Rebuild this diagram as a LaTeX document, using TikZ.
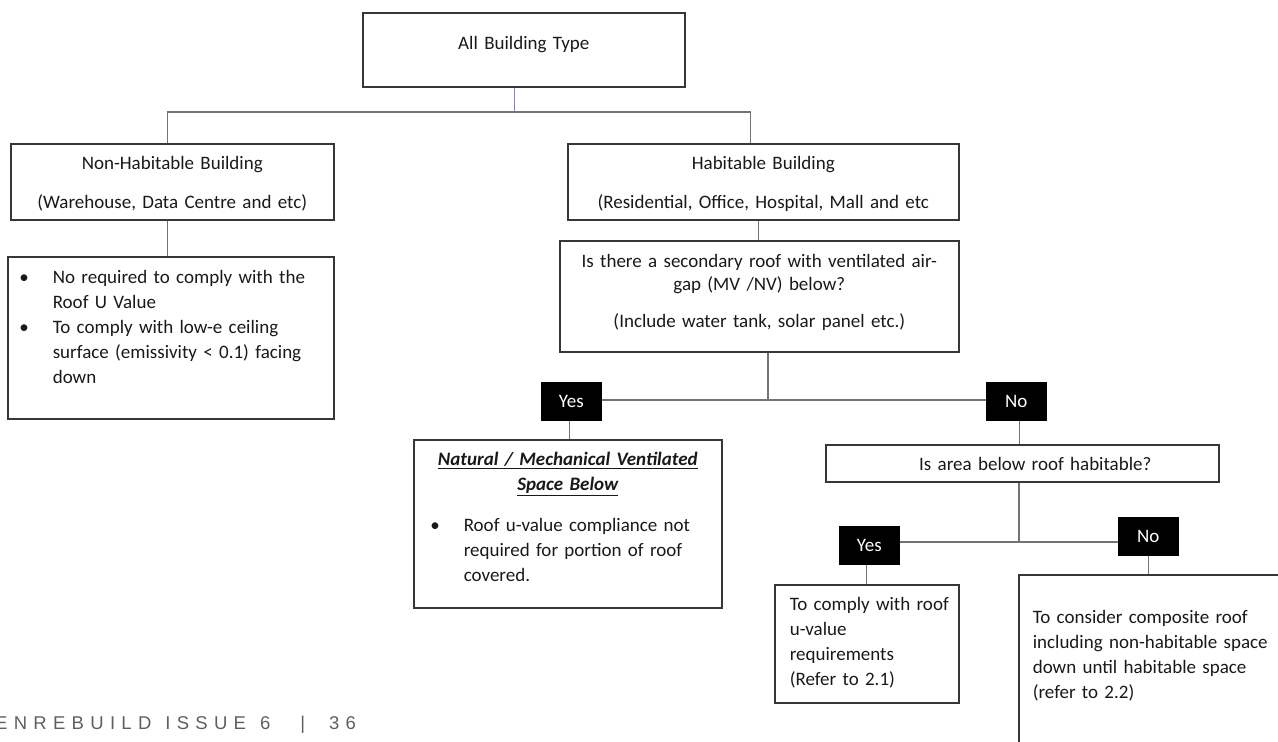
\documentclass[tikz,border=0pt]{standalone}
\usepackage{fontspec}
\setmainfont{Carlito}
\newfontfamily\footerfont[LetterSpace=34]{Liberation Sans}
\usepackage{xcolor}
\usepackage{tikz}
\usetikzlibrary{positioning,calc}
\definecolor{boxline}{RGB}{55,55,55}
\definecolor{linkgray}{RGB}{115,115,115}
\definecolor{linkblue}{RGB}{128,128,235}
\definecolor{footgray}{RGB}{95,95,95}
\newcommand{\bul}{\leavevmode\llap{\textbullet\hspace{24pt}}}
\newcommand{\padline}[2]{\makebox[\linewidth][l]{\hspace*{#1}#2}}
\tikzset{
  flowbox/.style={draw=boxline,line width=1.6pt,anchor=north west,inner sep=0pt,
    align=center,text=black!90,font=\fontsize{19}{25}\selectfont},
  notebox/.style={flowbox,align=left,execute at begin node={\leftskip=#1}},
  answerbox/.style={flowbox,draw=black,fill=black,text=white,
    text width=59pt,text height=24.5pt,text depth=12.5pt},
  footnote/.style={anchor=base west,inner sep=0pt,text=footgray,
    font=\footerfont\fontsize{18.5}{22}\selectfont},
  branch/.style={draw=linkgray,line width=1.2pt},
  rootlink/.style={draw=linkblue,line width=1pt}
}
\begin{document}
\begin{tikzpicture}[x=1pt,y=-1pt]
\path[use as bounding box,clip] (0,0) rectangle (1278,742);
\node[flowbox,text width=322pt,text height=37pt,text depth=37pt] (alltype) at (362,12) {All Building Type};
\node[flowbox,text width=323pt,text height=26pt,text depth=50pt] (nonhab) at (10,143)
  {Non-Habitable Building\\[14pt](Warehouse, Data Centre and etc)};
\node[flowbox,text width=391pt,text height=26pt,text depth=50pt] (hab) at (567,143)
  {Habitable Building\\[14pt](Residential, Office, Hospital, Mall and etc};
\node[notebox=45pt,text width=326pt,text height=27pt,text depth=135pt] (nonhabnote) at (7,256)
  {\bul No required to comply with the\\Roof U Value\\\bul To comply with low-e ceiling\\
   surface (emissivity < 0.1) facing\\down};
\node[flowbox,text width=399pt,text height=27pt,text depth=84pt] (second) at (559,240)
  {Is there a secondary roof with ventilated air-\\[-2pt]gap (MV /NV) below?\\[12pt]
   (Include water tank, solar panel etc.)};
\node[answerbox] (yes1) at (541,382) {Yes};
\node[answerbox] (no1) at (986,382) {No};
\node[flowbox,text width=308pt,text height=26pt,text depth=142pt] (natural) at (413,439)
  {\textbf{\textit{\underline{Natural / Mechanical Ventilated}}}\\
   \textbf{\textit{\underline{Space Below}}}\\[16pt]
   \padline{50pt}{\bul Roof u-value compliance not}\\
   \padline{50pt}{required for portion of roof}\\
   \padline{50pt}{covered.}};
\node[flowbox,text width=393pt,text height=26pt,text depth=11pt] (area) at (825,444)
  {\hspace*{26pt}Is area below roof habitable?};
\node[answerbox] (yes2) at (839,526) {Yes};
\node[answerbox] (no2) at (1118,517) {No};
\node[notebox=15pt,text width=184pt,text height=26pt,text depth=92pt] (comply) at (774,584)
  {To comply with roof\\u-value\\requirements\\(Refer to 2.1)};
\node[notebox=14pt,text width=280pt,text height=49pt,text depth=141pt] (composite) at (1018,574)
  {To consider composite roof\\including non-habitable space\\down until habitable space\\(refer to 2.2)};
\node[footnote] (issue) at (-5,729)
  {ENREBUILD\hspace{14pt}ISSUE\hspace{14pt}6\hspace{30pt}|\hspace{24pt}36};
\coordinate (rootfork) at (514,112);
\coordinate (ventfork) at (768,400);
\coordinate (areafork) at (1019,542);
\draw[rootlink] (alltype.south -| rootfork) -- (rootfork);
\draw[branch] ([xshift=-5pt]nonhab.north) |- (rootfork) -| ([xshift=-13pt]hab.north);
\draw[branch] ([xshift=-5pt]nonhab.south) -- ([xshift=-5pt]nonhab.south |- nonhabnote.north);
\draw[branch] ([xshift=-5pt]hab.south) -- ([xshift=-5pt]hab.south |- second.north);
\draw[branch] (second.south -| ventfork) -- (ventfork);
\draw[branch] (yes1.east |- ventfork) -- (no1.west |- ventfork);
\draw[branch] ([xshift=-2pt]yes1.south) -- ([xshift=-2pt]yes1.south |- natural.north);
\draw[branch] ([xshift=3pt]no1.south) -- ([xshift=3pt]no1.south |- area.north);
\draw[branch] (area.south -| areafork) -- (areafork);
\draw[branch] (yes2.east |- areafork) -- (no2.west |- areafork);
\draw[branch] ([xshift=-3pt]yes2.south) -- ([xshift=-3pt]yes2.south |- comply.north);
\draw[branch] (no2.south) -- (no2.south |- composite.north);
\end{tikzpicture}
\end{document}
